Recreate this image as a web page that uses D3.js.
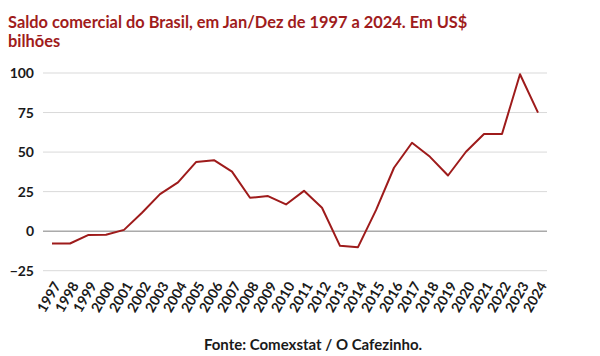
<!DOCTYPE html>
<html><head><meta charset="utf-8">
<script src="https://cdn.jsdelivr.net/npm/d3@7"></script>
<style>body{margin:0;background:#fff}svg{display:block}</style>
</head><body>
<svg id="c" width="600" height="356"></svg>
<script>
const years = ["1997","1998","1999","2000","2001","2002","2003","2004","2005","2006","2007","2008","2009","2010","2011","2012","2013","2014","2015","2016","2017","2018","2019","2020","2021","2022","2023","2024"];
const saldo = [-7.8,-7.8,-2.5,-2.3,0.8,11.6,23.4,30.8,43.7,44.9,37.6,21.1,22.2,16.9,25.5,14.8,-9.3,-10.1,13.3,40.1,55.9,47.0,35.2,50.2,61.4,61.4,99.2,74.9];
const yTicks = [-25,0,25,50,75,100];
const titleLines = ["Saldo comercial do Brasil, em Jan/Dez de 1997 a 2024. Em US$","bilhões"];
const source = "Fonte: Comexstat / O Cafezinho.";

const svg = d3.select("#c");
const font = "Lato, 'Open Sans', sans-serif";
const x = d3.scaleBand().domain(years).range([43,547]);
const y = d3.scaleLinear().domain([-25,100]).range([270.7,73]);

svg.append("g").selectAll("text").data(titleLines).join("text")
  .attr("x",8).attr("y",(d,i)=>28+i*19)
  .attr("font-family",font).attr("font-weight","bold").attr("font-size",16.4)
  .attr("fill","#a01c1c").text(d=>d);

svg.append("g").selectAll("line").data(yTicks.filter(d=>d!==0)).join("line")
  .attr("x1",43).attr("x2",547).attr("y1",d=>y(d)).attr("y2",d=>y(d))
  .attr("stroke","#d9d9d9").attr("stroke-width",1);
svg.append("line").attr("x1",43).attr("x2",547).attr("y1",y(0)).attr("y2",y(0))
  .attr("stroke","#7f7f7f").attr("stroke-width",1);

const yAxis = svg.append("g").attr("transform","translate(43,0)")
  .call(d3.axisLeft(y).tickValues(yTicks).tickSize(0).tickPadding(9));
yAxis.select(".domain").remove();
yAxis.selectAll("text").attr("font-family",font).attr("font-weight","bold")
  .attr("font-size",14).attr("fill","#1a1a1a");

const xAxis = svg.append("g").attr("transform","translate(0,276)")
  .call(d3.axisBottom(x).tickSize(0).tickPadding(0));
xAxis.select(".domain").remove();
xAxis.selectAll("text").attr("font-family",font).attr("font-weight","bold")
  .attr("font-size",14).attr("fill","#1a1a1a")
  .attr("text-anchor","end").attr("dy","0.35em")
  .attr("transform","translate(5,7) rotate(-60)");

const line = d3.line().x((d,i)=>x(years[i])+x.bandwidth()/2).y(d=>y(d));
svg.append("path").datum(saldo).attr("d",line).attr("fill","none")
  .attr("stroke","#9e1b1b").attr("stroke-width",2).attr("stroke-linejoin","round");

svg.append("text").attr("x",313).attr("y",350).attr("text-anchor","middle")
  .attr("font-family",font).attr("font-weight","bold").attr("font-size",15)
  .attr("fill","#1a1a1a").text(source);
</script>
</body></html>
